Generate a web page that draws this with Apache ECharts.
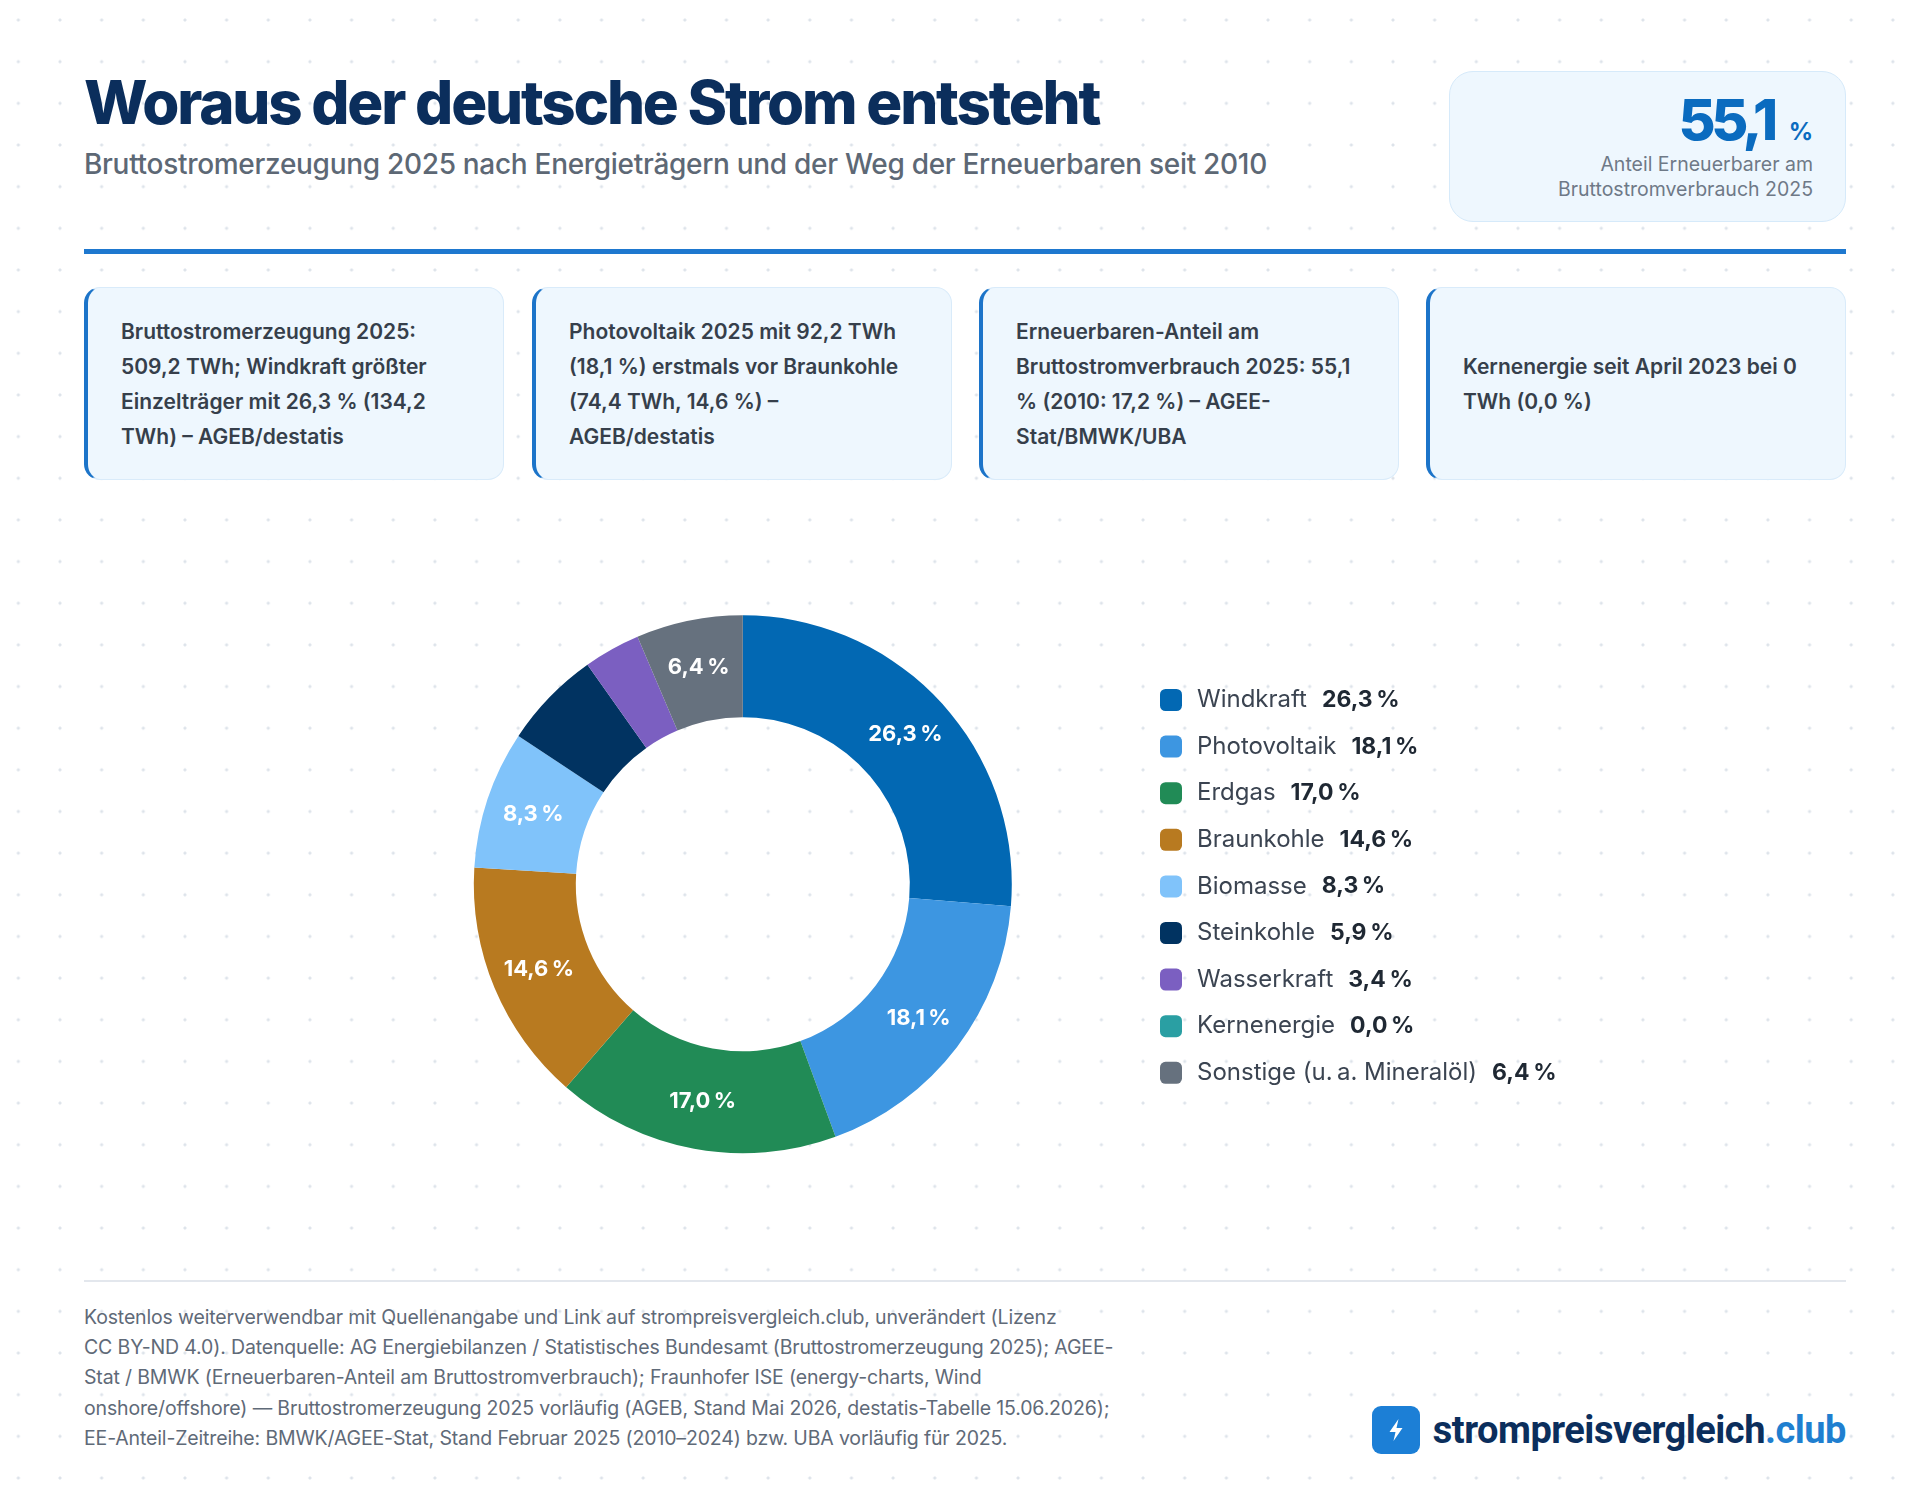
<!DOCTYPE html>
<html lang="de">
<head>
<meta charset="utf-8">
<title>Woraus der deutsche Strom entsteht</title>
<script src="https://cdn.jsdelivr.net/npm/echarts@6/dist/echarts.min.js"></script>
<style>
  html, body { margin: 0; padding: 0; }
  body {
    width: 1920px; height: 1490px; position: relative; overflow: hidden;
    font-family: Inter, "Noto Sans", sans-serif;
    background-color: #fff;
    background-image: radial-gradient(circle, #dde3ea 1.3px, rgba(255,255,255,0) 1.8px);
    background-size: 41.67px 41.67px;
    background-position: -2.5px -0.8px;
  }
  .abs { position: absolute; }
  #title {
    left: 84px; top: 72px; font-size: 60px; line-height: 60px; font-weight: 800;
    color: #0b2e5c; letter-spacing: -2.2px; white-space: nowrap;
  }
  #subtitle {
    left: 84px; top: 150px; font-size: 28px; line-height: 28px; font-weight: 500;
    color: #5d6875; letter-spacing: -0.3px; white-space: nowrap;
  }
  #kpi {
    left: 1449px; top: 71px; width: 397px; height: 151px; box-sizing: border-box;
    background: #eef7fe; border: 1.5px solid #d6eafa; border-radius: 24px;
  }
  #kpi .num {
    position: absolute; right: 32px; top: 19px; white-space: nowrap; color: #0a6bbf;
    font-size: 57px; line-height: 57px;
  }
  #kpi .num b { font-weight: 800; letter-spacing: -4.5px; }
  #kpi .num span { font-size: 24px; font-weight: 700; margin-left: 15px; }
  #kpi .lbl {
    position: absolute; right: 32px; top: 80px; text-align: right;
    font-size: 19.5px; line-height: 24.5px; color: #6e7987; white-space: nowrap;
  }
  #rule { left: 84px; top: 249px; width: 1762px; height: 5px; background: #1e78cf; }
  .card {
    position: absolute; top: 287px; width: 420px; height: 193px; box-sizing: border-box;
    background: #eef7fe; border: 1.5px solid #d9ebfa; border-left: 4px solid #1c74c9;
    border-radius: 16px; display: flex; align-items: center;
    padding-left: 33px; font-size: 21px; line-height: 35px; font-weight: 600;
    color: #363f4b; white-space: nowrap;
  }
  #chart { left: 0; top: 500px; width: 1920px; height: 760px; }
  #footrule { left: 84px; top: 1280px; width: 1762px; height: 1.5px; background: #e3e7ed; }
  #foot {
    left: 84px; top: 1302px; font-size: 19.5px; line-height: 30.2px; color: #5f6a78;
    white-space: nowrap; letter-spacing: -0.15px;
  }
  #logo { left: 1372px; top: 1406px; width: 48px; height: 48px; border-radius: 9px; background: #1c7fd6; }
  #logotext {
    right: 74px; top: 1408px; font-size: 38px; line-height: 44px; font-weight: 700;
    color: #0b2e5c; letter-spacing: -0.5px; white-space: nowrap; font-family: Roboto, Inter, sans-serif;
  }
  #logotext span { color: #1f7fd0; }
</style>
</head>
<body>
<div id="title" class="abs">Woraus der deutsche Strom entsteht</div>
<div id="subtitle" class="abs">Bruttostromerzeugung 2025 nach Energieträgern und der Weg der Erneuerbaren seit 2010</div>

<div id="kpi" class="abs">
  <div class="num"><b>55,1</b><span>%</span></div>
  <div class="lbl">Anteil Erneuerbarer am<br>Bruttostromverbrauch 2025</div>
</div>

<div id="rule" class="abs"></div>

<div class="card" style="left:84px">Bruttostromerzeugung 2025:<br>509,2 TWh; Windkraft größter<br>Einzelträger mit 26,3 % (134,2<br>TWh) – AGEB/destatis</div>
<div class="card" style="left:532px">Photovoltaik 2025 mit 92,2 TWh<br>(18,1 %) erstmals vor Braunkohle<br>(74,4 TWh, 14,6 %) –<br>AGEB/destatis</div>
<div class="card" style="left:979px">Erneuerbaren-Anteil am<br>Bruttostromverbrauch 2025: 55,1<br>% (2010: 17,2 %) – AGEE-<br>Stat/BMWK/UBA</div>
<div class="card" style="left:1426px">Kernenergie seit April 2023 bei 0<br>TWh (0,0 %)</div>

<div id="chart" class="abs"></div>

<div id="footrule" class="abs"></div>
<div id="foot" class="abs">Kostenlos weiterverwendbar mit Quellenangabe und Link auf strompreisvergleich.club, unverändert (Lizenz<br>CC BY-ND 4.0). Datenquelle: AG Energiebilanzen / Statistisches Bundesamt (Bruttostromerzeugung 2025); AGEE-<br>Stat / BMWK (Erneuerbaren-Anteil am Bruttostromverbrauch); Fraunhofer ISE (energy-charts, Wind<br>onshore/offshore) — Bruttostromerzeugung 2025 vorläufig (AGEB, Stand Mai 2026, destatis-Tabelle 15.06.2026);<br>EE-Anteil-Zeitreihe: BMWK/AGEE-Stat, Stand Februar 2025 (2010–2024) bzw. UBA vorläufig für 2025.</div>

<div id="logo" class="abs">
  <svg width="48" height="48" viewBox="0 0 48 48"><path d="M26.5 13 L17.5 26 L23.5 26 L21.5 35 L30.5 22 L24.5 22 Z" fill="#fff"/></svg>
</div>
<div id="logotext" class="abs">strompreisvergleich<span>.club</span></div>

<script>
// Anteile an der Bruttostromerzeugung 2025 (%)
var categories = ['Windkraft', 'Photovoltaik', 'Erdgas', 'Braunkohle', 'Biomasse',
  'Steinkohle', 'Wasserkraft', 'Kernenergie', 'Sonstige (u.\u2009a. Mineralöl)'];
var shares = [26.3, 18.1, 17.0, 14.6, 8.3, 5.9, 3.4, 0.0, 6.4];
var colors = ['#0268b3', '#3d96e1', '#218b56', '#b87a20', '#80c3fa',
  '#013361', '#7b5fc1', '#2a9fa3', '#66717e'];

// 26.3 -> "26,3 %" (schmales Leerzeichen vor dem Prozentzeichen)
function fmt(v) {
  return v.toFixed(1).replace('.', ',') + '\u2009%';
}

var shareOf = {};
var pieData = [];
for (var i = 0; i < categories.length; i++) {
  shareOf[categories[i]] = shares[i];
  pieData.push({ name: categories[i], value: shares[i], itemStyle: { color: colors[i] } });
}

var chart = echarts.init(document.getElementById('chart'), null, { renderer: 'canvas' });
var option = {
  animation: false,
  textStyle: { fontFamily: 'Inter, "Noto Sans", sans-serif' },
  legend: {
    orient: 'vertical',
    left: 1155,
    top: 183,
    icon: 'roundRect',
    itemWidth: 22,
    itemHeight: 22,
    itemGap: 22.6,
    selectedMode: false,
    data: categories,
    formatter: function (name) {
      return '{n|' + name + '}{v|' + fmt(shareOf[name]) + '}';
    },
    textStyle: {
      rich: {
        n: { fontSize: 24, color: '#3b4451', lineHeight: 28, padding: [0, 0, 0, 10] },
        v: { fontSize: 23, fontWeight: 700, color: '#1f2833', lineHeight: 28, padding: [0, 0, 0, 15] }
      }
    }
  },
  series: [{
    type: 'pie',
    center: [742.8, 384.3],
    radius: [167, 269],
    startAngle: 90,
    clockwise: true,
    avoidLabelOverlap: false,
    itemStyle: { borderWidth: 0 },
    label: {
      show: true,
      position: 'inside',
      color: '#fff',
      fontSize: 22,
      fontWeight: 700,
      formatter: function (p) {
        return p.value >= 6 ? fmt(p.value) : '';
      }
    },
    labelLine: { show: false },
    emphasis: { disabled: true },
    data: pieData
  }]
};
chart.setOption(option);
</script>
</body>
</html>
